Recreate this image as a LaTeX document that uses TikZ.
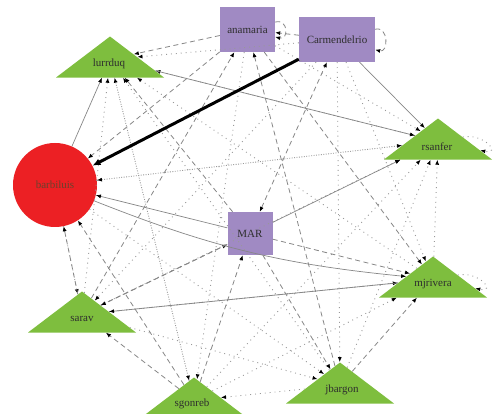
\documentclass[tikz,border=0pt]{standalone}
\usepackage{fontspec}
\setmainfont{Liberation Serif}
\usetikzlibrary{shapes.geometric,arrows.meta,calc}
\definecolor{pur}{RGB}{160,138,195}
\definecolor{grn}{RGB}{126,190,62}
\definecolor{rd}{RGB}{236,32,36}
\definecolor{edg}{RGB}{135,135,135}
\begin{document}
\begin{tikzpicture}[x=1pt,y=-1pt,
 tip/.style={-{Latex[length=5pt,width=4pt,color=black]}},
 esolid/.style={draw=edg,line width=0.7pt,tip},
 edash/.style={draw=edg,line width=0.8pt,dash pattern=on 5pt off 3.5pt,tip},
 edot/.style={draw=edg!85,line width=0.9pt,dash pattern=on 0.9pt off 4pt,tip},
 ebold/.style={draw=black,line width=3pt,-{Latex[length=8pt,width=7pt]}},
 selfloop/.style={out=15,in=-15,looseness=1,min distance=14pt},
 triloop/.style={out=10,in=-12,looseness=1.2,min distance=22pt},
 lbl/.style={font=\fontsize{11}{13}\selectfont,text=black!82},
 box/.style={rectangle,fill=pur,inner sep=0pt,lbl},
 tri/.style={isosceles triangle,isosceles triangle stretches,shape border rotate=90,fill=grn,inner sep=0pt,minimum width=108pt,minimum height=41pt,anchor=apex}
]
\useasboundingbox (0,0) rectangle (499,414);
\fill[white] (0,0) rectangle (499,414);
% nodes
\node[box,minimum width=55pt,minimum height=45pt] (anamaria) at (247.5,29.5) {anamaria};
\node[box,minimum width=76pt,minimum height=45pt] (carmen) at (337,39.5) {Carmendelrio};
\node[box,minimum width=45pt,minimum height=43pt] (mar) at (250,233.5) {MAR};
\node[circle,fill=rd,minimum size=84pt,inner sep=0pt,lbl,text={rgb,255:red,105;green,65;blue,45}] (barb) at (55,185) {barbiluis};
\node[tri] (lurr) at (110,36) {};
\node[lbl] (lurr-t) at (109,64) {lurrduq};
\node[tri] (rsan) at (438,118) {};
\node[lbl] (rsan-t) at (437,147) {rsanfer};
\node[tri] (mjri) at (433,256) {};
\node[lbl] (mjri-t) at (433,284) {mjrivera};
\node[tri] (sarav) at (82,291) {};
\node[lbl] (sarav-t) at (82,319) {sarav};
\node[tri] (sgon) at (194,377) {};
\node[lbl] (sgon-t) at (192,404) {sgonreb};
\node[tri] (jbar) at (340,362) {};
\node[lbl] (jbar-t) at (342,390) {jbargon};
% dotted edges
\draw[edot] (carmen) -- (lurr);
\draw[edot] (barb) -- (rsan);
\draw[edot] (carmen) -- (jbar);
\draw[edot] (sarav) -- (lurr);
\draw[edot] (sgon) -- (lurr);
\draw[edot] (jbar) -- (lurr);
\draw[edot] (rsan) -- (lurr);
\draw[edot] (mjri) -- (lurr);
\draw[edot] (sarav) -- (rsan);
\draw[edot] (sgon) -- (rsan);
\draw[edot] (jbar) -- (rsan);
\draw[edot] (mjri) -- (rsan);
\draw[edot] (sgon) -- (mjri);
\draw[edot] (jbar) -- (sgon);
\draw[edot] (sarav) -- (jbar);
\draw[edot] (barb) -- (jbar);
\draw[edot] (carmen) -- (sarav);
\draw[edot] (anamaria) -- (sgon);
\draw[edot] (rsan) -- (barb);
\draw[edot] (carmen) -- (mjri);
\draw[edot] (lurr) -- (sgon);
\draw[edot] (anamaria) -- (rsan);
\draw[edot] (barb) -- (sarav);
\draw[edot] (rsan) to[triloop] (rsan);
\draw[edot] (mjri) to[triloop] (mjri);
% dashed edges
\draw[edash] (anamaria) -- (lurr);
\draw[edash] (carmen) -- (anamaria);
\draw[edash] (anamaria) to[selfloop] (anamaria);
\draw[edash] (carmen) to[selfloop] (carmen);
\draw[edash,{Latex[length=5pt,width=4pt,color=black]}-{Latex[length=5pt,width=4pt,color=black]}] (mar) -- (carmen);
\draw[edash] (sarav) -- (mar);
\draw[edash] (sgon) -- (mar);
\draw[edash] (mar) -- (sarav);
\draw[edash] (sgon) -- (sarav);
\draw[edash] (sarav) -- (barb);
\draw[edash] (sgon) -- (barb);
\draw[edash] (mar) -- (lurr);
\draw[edash] (mar) -- (mjri);
\draw[edash] (sarav) -- (mjri);
\draw[edash] (jbar) -- (mjri);
\draw[edash] (anamaria) -- (mjri);
\draw[edash] (mjri) -- (sarav);
\draw[edash] (anamaria) -- (barb);
\draw[edash] (sarav) -- (anamaria);
\draw[edash] (jbar) -- (anamaria);
\draw[edash] (mar) -- (jbar);
% solid edges
\draw[esolid] (barb) -- (lurr);
\draw[esolid] (lurr) -- (rsan);
\draw[esolid] (carmen) -- (rsan);
\draw[esolid] (mar) -- (rsan);
\draw[esolid] (mar) -- (barb);
\draw[esolid] (barb) to[bend right=8] (mjri);
\draw[ebold] (carmen) -- (barb);
\end{tikzpicture}
\end{document}
